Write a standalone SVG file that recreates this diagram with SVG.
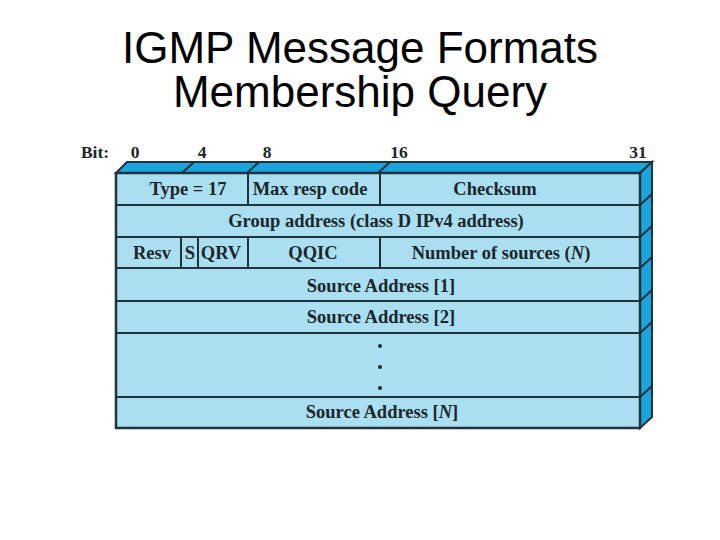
<svg xmlns="http://www.w3.org/2000/svg" width="720" height="540" viewBox="0 0 720 540">
<style>
.title{font-family:"Liberation Sans",Arial,sans-serif;font-size:44px;fill:#000;text-anchor:middle}
.lbl{font-family:"Liberation Serif","Times New Roman",serif;font-size:18.5px;font-weight:bold;fill:#1c262c;text-anchor:middle}
.bit{font-family:"Liberation Serif","Times New Roman",serif;font-size:17.5px;font-weight:bold;fill:#1c262c;text-anchor:middle}
.face{fill:#a9dff0;stroke:#22323a;stroke-width:2.5}
.side{fill:#1aa3dc;stroke:#22323a;stroke-width:2}
.ln{stroke:#22323a;stroke-width:2;fill:none}
</style>
<rect width="720" height="540" fill="#fff"/>
<g id="title">
<text class="title" x="360" y="63">IGMP Message Formats</text>
<text class="title" x="360" y="107">Membership Query</text>
</g>
<g id="bits">
<text class="bit" x="95" y="158">Bit:</text>
<text class="bit" x="135" y="158">0</text>
<text class="bit" x="202" y="158">4</text>
<text class="bit" x="267" y="158">8</text>
<text class="bit" x="399" y="158">16</text>
<text class="bit" x="638" y="158">31</text>
</g>
<g id="box3d">
<polygon class="side" points="116,173 127,162 652,162 640,173"/>
<polygon class="side" points="640,173 652,162 652,417 640,428"/>
<rect class="face" x="116" y="173" width="524" height="255"/>
</g>
<g id="connectors">
<path class="ln" d="M182,173 L194,162 M247,173 L259,162 M378,173 L390,162"/>
<path class="ln" d="M640,205 L652,194 M640,237 L652,226 M640,268 L652,257 M640,301 L652,290 M640,333 L652,322 M640,397 L652,386"/>
<path class="ln" d="M116,205 H640 M116,237 H640 M116,268 H640 M116,301 H640 M116,333 H640 M116,397 H640"/>
<path class="ln" d="M248,173 V205 M380,173 V205 M181,237 V268 M198,237 V268 M248,237 V268 M380,237 V268"/>
</g>
<g id="row1">
<text class="lbl" x="188" y="195">Type = 17</text>
<text class="lbl" x="310" y="195">Max resp code</text>
<text class="lbl" x="495" y="195">Checksum</text>
</g>
<g id="row2">
<text class="lbl" x="376" y="227">Group address (class D IPv4 address)</text>
</g>
<g id="row3">
<text class="lbl" x="152" y="259">Resv</text>
<text class="lbl" x="190" y="259">S</text>
<text class="lbl" x="221" y="259">QRV</text>
<text class="lbl" x="313" y="259">QQIC</text>
<text class="lbl" x="501" y="259">Number of sources (<tspan font-style="italic">N</tspan>)</text>
</g>
<g id="row4"><text class="lbl" x="381" y="292">Source Address [1]</text></g>
<g id="row5"><text class="lbl" x="381" y="323">Source Address [2]</text></g>
<g id="dots" fill="#1c262c">
<circle cx="380" cy="346" r="2"/>
<circle cx="380" cy="367" r="2"/>
<circle cx="380" cy="388" r="2"/>
</g>
<g id="row6"><text class="lbl" x="382" y="418">Source Address [<tspan font-style="italic">N</tspan>]</text></g>
</svg>
